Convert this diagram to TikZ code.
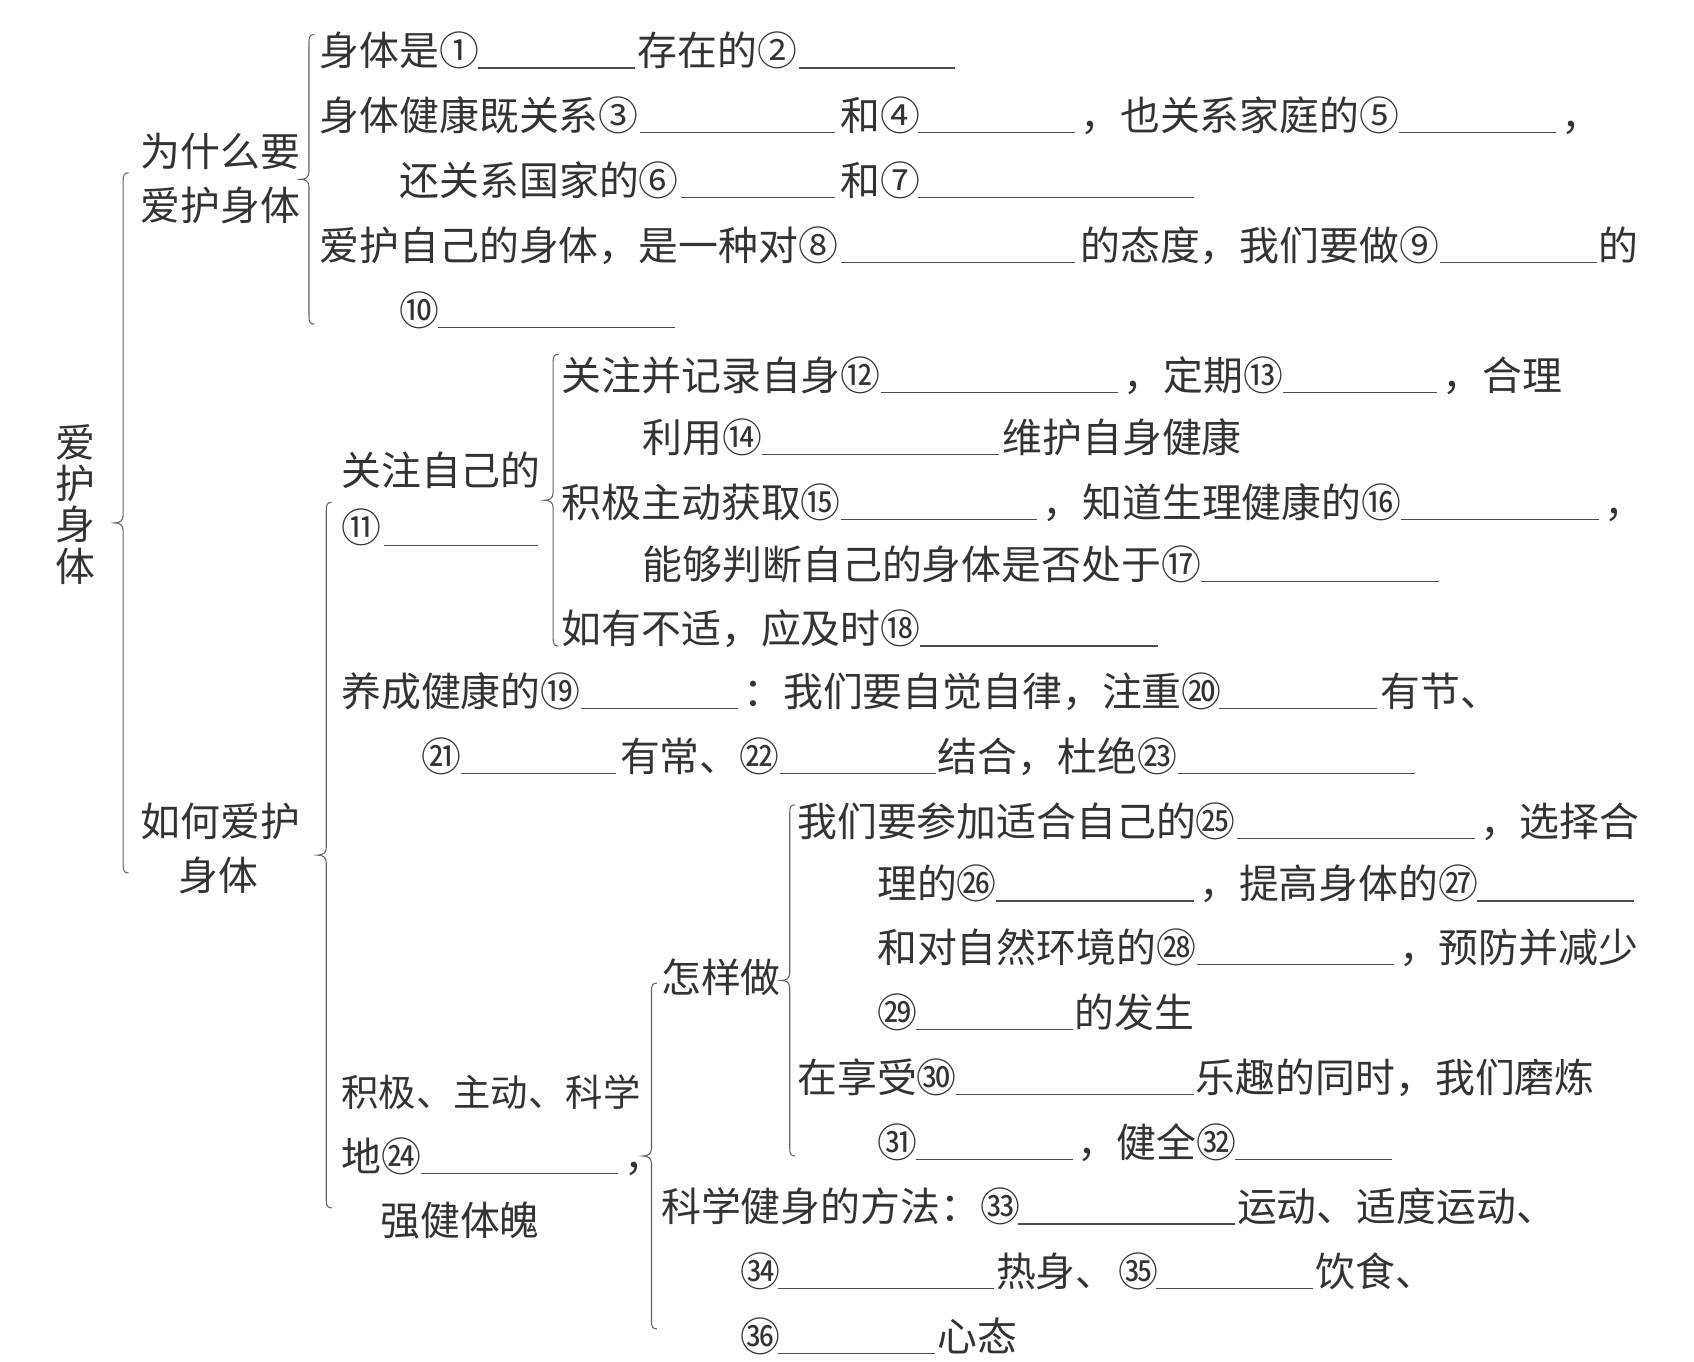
\documentclass[tikz,border=0pt]{standalone}
\usepackage{fontspec}
\newfontfamily\cjk{Noto Sans CJK SC}
\newcommand\mybrace[3]{%
 \pgfmathsetmacro\brX{#1}\pgfmathsetmacro\brT{#2}\pgfmathsetmacro\brB{#3}\pgfmathsetmacro\brM{(#2+#3)/2}%
 \draw[brc] (\brX+5,\brT) .. controls (\brX+1,\brT) and (\brX,\brT+2) .. (\brX,\brT+7)
   -- (\brX,\brM-7) .. controls (\brX,\brM-2) and (\brX-3,\brM) .. (\brX-8,\brM)
   .. controls (\brX-3,\brM) and (\brX,\brM+2) .. (\brX,\brM+7)
   -- (\brX,\brB-7) .. controls (\brX,\brB-2) and (\brX+1,\brB) .. (\brX+5,\brB);}
\begin{document}
\begin{tikzpicture}[x=1pt,y=-1pt,
  txt/.style={anchor=base west,inner sep=0pt,outer sep=0pt,text=black!80,font=\cjk\fontsize{36.9}{40}\selectfont},
  brc/.style={draw=black!60,line width=1pt},
  blank/.style={draw=black!70,line width=1.1pt}]
\useasboundingbox[fill=white] (0,0) rectangle (1568,1260);
% baseline = center + 14 ; blank = center + 16
% ---------- root ----------
\node[txt,anchor=center,align=center,font=\cjk\fontsize{36.9}{38}\selectfont] (root) at (70,467) {爱\\护\\身\\体};
\mybrace{114}{160}{808}
% ---------- level 1 ----------
\node[txt] (w1) at (130,154) {为什么要};
\node[txt] (w2) at (130,204) {爱护身体};
\node[txt] (h1) at (130,774) {如何爱护};
\node[txt] (h2) at (165,824) {身体};
% ---------- why ----------
\mybrace{286}{32}{300}
\node[txt] (a1a) at (296,61) {身体是①};
\draw[blank] (442,63) -- (588,63);
\node[txt] (a1b) at (590,61) {存在的②};
\draw[blank] (740,63) -- (884,63);

\node[txt] (a2a) at (296,121) {身体健康既关系③};
\draw[blank] (592,123) -- (773,123);
\node[txt] (a2b) at (778,121) {和④};
\draw[blank] (850,123) -- (995,123);
\node[txt] (a2c) at (1000,121) {，也关系家庭的⑤};
\draw[blank] (1295,123) -- (1440,123);
\node[txt] (a2d) at (1445,121) {，};

\node[txt] (a3a) at (370,181) {还关系国家的⑥};
\draw[blank] (630,183) -- (773,183);
\node[txt] (a3b) at (778,181) {和⑦};
\draw[blank] (850,183) -- (1105,183);

\node[txt] (a4a) at (296,241) {爱护自己的身体，是一种对⑧};
\draw[blank] (778,243) -- (995,243);
\node[txt] (a4b) at (1000,241) {的态度，我们要做⑨};
\draw[blank] (1333,243) -- (1478,243);
\node[txt] (a4c) at (1480,241) {的};

\node[txt] (a5a) at (370,301) {⑩};
\draw[blank] (405,303) -- (625,303);
% ---------- how ----------
\mybrace{302}{465}{1118}
\node[txt] (c1) at (316,449) {关注自己的};
\node[txt] (c2) at (316,502) {⑪};
\draw[blank] (355,505) -- (498,505);

\mybrace{512}{328}{598}
\node[txt] (b1a) at (520,361) {关注并记录自身⑫};
\draw[blank] (815,363) -- (1035,363);
\node[txt] (b1b) at (1040,361) {，定期⑬};
\draw[blank] (1188,363) -- (1330,363);
\node[txt] (b1c) at (1335,361) {，合理};

\node[txt] (b2a) at (595,419) {利用⑭};
\draw[blank] (705,421) -- (925,421);
\node[txt] (b2b) at (928,419) {维护自身健康};

\node[txt] (b3a) at (520,479) {积极主动获取⑮};
\draw[blank] (778,481) -- (960,481);
\node[txt] (b3b) at (965,479) {，知道生理健康的⑯};
\draw[blank] (1297,481) -- (1480,481);
\node[txt] (b3c) at (1485,479) {，};

\node[txt] (b4a) at (595,536) {能够判断自己的身体是否处于⑰};
\draw[blank] (1112,538) -- (1332,538);

\node[txt] (b5a) at (520,596) {如有不适，应及时⑱};
\draw[blank] (852,598) -- (1072,598);

\node[txt] (d1a) at (316,654) {养成健康的⑲};
\draw[blank] (538,656) -- (683,656);
\node[txt] (d1b) at (688,654) {：我们要自觉自律，注重⑳};
\draw[blank] (1128,656) -- (1275,656);
\node[txt] (d1c) at (1278,654) {有节、};

\node[txt] (d2a) at (390,714) {㉑};
\draw[blank] (427,716) -- (570,716);
\node[txt] (d2b) at (574,714) {有常、㉒};
\draw[blank] (722,716) -- (866,716);
\node[txt] (d2c) at (868,714) {结合，杜绝㉓};
\draw[blank] (1090,716) -- (1310,716);

\node[txt,font=\cjk\fontsize{34.6}{40}\selectfont] (g1) at (316,1024) {积极、主动、科学};
\node[txt] (g2) at (316,1084) {地㉔};
\draw[blank] (390,1086) -- (572,1086);
\node[txt] (g3) at (578,1084) {，};
\node[txt] (g4) at (352,1144) {强健体魄};

\mybrace{603}{910}{1230}
\node[txt] (zy) at (612,919) {怎样做};

\mybrace{731}{745}{1070}
\node[txt] (e1a) at (738,774) {我们要参加适合自己的㉕};
\draw[blank] (1145,776) -- (1365,776);
\node[txt] (e1b) at (1370,774) {，选择合};

\node[txt] (e2a) at (812,832) {理的㉖};
\draw[blank] (922,834) -- (1105,834);
\node[txt] (e2b) at (1110,832) {，提高身体的㉗};
\draw[blank] (1367,834) -- (1512,834);

\node[txt] (e3a) at (812,891) {和对自然环境的㉘};
\draw[blank] (1108,893) -- (1290,893);
\node[txt] (e3b) at (1295,891) {，预防并减少};

\node[txt] (e4a) at (812,951) {㉙};
\draw[blank] (848,953) -- (993,953);
\node[txt] (e4b) at (995,951) {的发生};

\node[txt] (e5a) at (738,1011) {在享受㉚};
\draw[blank] (885,1013) -- (1105,1013);
\node[txt] (e5b) at (1107,1011) {乐趣的同时，我们磨炼};

\node[txt] (e6a) at (812,1071) {㉛};
\draw[blank] (848,1073) -- (993,1073);
\node[txt] (e6b) at (997,1071) {，健全㉜};
\draw[blank] (1143,1073) -- (1288,1073);

\node[txt] (f1a) at (612,1131) {科学健身的方法：㉝};
\draw[blank] (942,1133) -- (1143,1133);
\node[txt] (f1b) at (1145,1131) {运动、适度运动、};

\node[txt] (f2a) at (685,1191) {㉞};
\draw[blank] (720,1193) -- (920,1193);
\node[txt] (f2b) at (922,1191) {热身、};
\node[txt] (f2c) at (1035,1191) {㉟};
\draw[blank] (1070,1193) -- (1215,1193);
\node[txt] (f2d) at (1218,1191) {饮食、};

\node[txt] (f3a) at (685,1251) {㊱};
\draw[blank] (720,1253) -- (865,1253);
\node[txt] (f3b) at (868,1251) {心态};
\end{tikzpicture}
\end{document}
